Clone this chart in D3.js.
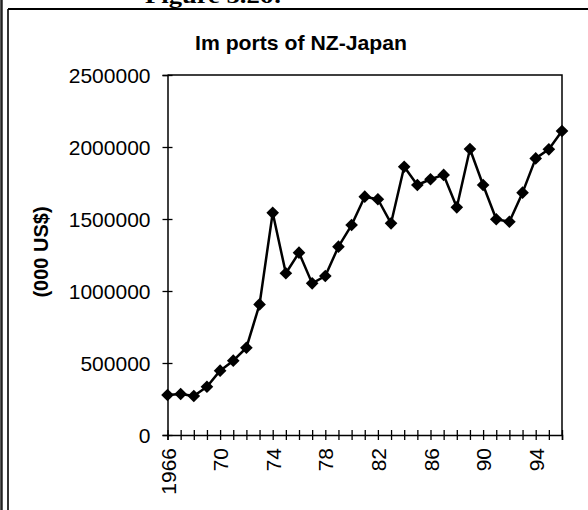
<!DOCTYPE html>
<html>
<head>
<meta charset="utf-8">
<script src="https://cdn.jsdelivr.net/npm/d3@7"></script>
<style>
  html, body { margin: 0; padding: 0; background: #fff; }
  svg { display: block; }
  text { font-family: "Liberation Sans", Arial, sans-serif; fill: #000; }
</style>
</head>
<body>
<svg id="chart" width="588" height="510"></svg>
<script>
const years = [1966,1967,1968,1969,1970,1971,1972,1973,1974,1975,1976,1977,1978,1979,1980,
               1981,1982,1983,1984,1985,1986,1987,1988,1989,1990,1991,1992,1993,1994,1995,1996];
const imports = [278000,285000,271000,335000,447000,516000,606000,907000,1543000,1123000,1266000,
                 1053000,1104000,1308000,1458000,1655000,1637000,1470000,1863000,1736000,1776000,
                 1806000,1581000,1986000,1736000,1498000,1481000,1683000,1921000,1984000,2111000];
const yTicks = [0,500000,1000000,1500000,2000000,2500000];
const xLabelYears = [1966,1970,1974,1978,1982,1986,1990,1994];
const xLabels = ["1966","70","74","78","82","86","90","94"];
const title = "Im ports of NZ-Japan";
const yTitle = "(000 US$)";
const figCaption = "Figure 5.26:";

const svg = d3.select("#chart");
const x = d3.scaleLinear().domain([1966, 1996]).range([167.5, 562]);
const y = d3.scaleLinear().domain([0, 2500000]).range([435, 75]);

// outer frame
svg.append("line").attr("x1",1.5).attr("x2",1.5).attr("y1",0).attr("y2",510)
   .attr("stroke","#222").attr("stroke-width",2.5);
svg.append("line").attr("x1",8).attr("x2",8).attr("y1",9).attr("y2",510)
   .attr("stroke","#000").attr("stroke-width",1.6);
svg.append("line").attr("x1",8).attr("x2",588).attr("y1",9).attr("y2",9)
   .attr("stroke","#000").attr("stroke-width",2);

// cut-off caption at top
svg.append("text").attr("x",145).attr("y",3)
   .attr("textLength",137).attr("lengthAdjust","spacingAndGlyphs")
   .style("font-family","'Liberation Serif', 'Times New Roman', serif")
   .style("font-weight","bold").style("font-size","22px").text(figCaption);

// title
svg.append("text").attr("x",301).attr("y",50).attr("text-anchor","middle")
   .style("font-weight","bold").style("font-size","21px")
   .attr("textLength",212).attr("lengthAdjust","spacingAndGlyphs")
   .text(title);

// plot border (top and right)
svg.append("path")
   .attr("d", `M${x.range()[0]},${y(2500000)}H${x.range()[1]}V${y(0)}`)
   .attr("fill","none").attr("stroke","#000").attr("stroke-width",1.5);

// y axis
const yAxis = svg.append("g").attr("transform",`translate(${x.range()[0]},0)`)
  .call(d3.axisLeft(y).tickValues(yTicks).tickFormat(d3.format("d")).tickSizeOuter(0).tickSize(5).tickPadding(12));
yAxis.select(".domain").attr("stroke","#000").attr("stroke-width",1.5);
yAxis.selectAll(".tick line").attr("x1",5).attr("x2",-5).attr("stroke","#000").attr("stroke-width",1.3);
yAxis.selectAll(".tick text").style("font-size","21px").style("font-family","'Liberation Sans', Arial, sans-serif")
     .attr("dy","0.36em");

// x axis
const xAxis = svg.append("g").attr("transform",`translate(0,${y(0)})`)
  .call(d3.axisBottom(x).tickValues(years).tickSizeOuter(0).tickSize(5)
        .tickFormat(d => { const i = xLabelYears.indexOf(d); return i >= 0 ? xLabels[i] : ""; }));
xAxis.select(".domain").attr("stroke","#000").attr("stroke-width",1.5);
xAxis.selectAll(".tick line").attr("y1",-5).attr("y2",5).attr("stroke","#000").attr("stroke-width",1.3);
xAxis.selectAll(".tick text")
     .style("font-size","21px").style("font-family","'Liberation Sans', Arial, sans-serif")
     .attr("text-anchor","end").attr("transform","rotate(-90)")
     .attr("x",-13).attr("y",0).attr("dy","0.36em");

// y title
svg.append("text").attr("transform","translate(48,252) rotate(-90)")
   .attr("text-anchor","middle").style("font-weight","bold").style("font-size","20px")
   .text(yTitle);

// line
const line = d3.line().x((d,i) => x(years[i])).y(d => y(d));
svg.append("path").datum(imports).attr("d", line)
   .attr("fill","none").attr("stroke","#000").attr("stroke-width",2.5).attr("stroke-linejoin","round");

// markers
const sym = d3.symbol().type(d3.symbolSquare).size(80);
svg.append("g").selectAll("path").data(imports).join("path")
   .attr("d", sym)
   .attr("transform",(d,i) => `translate(${x(years[i])},${y(d)}) rotate(45)`)
   .attr("fill","#000");
</script>
</body>
</html>
